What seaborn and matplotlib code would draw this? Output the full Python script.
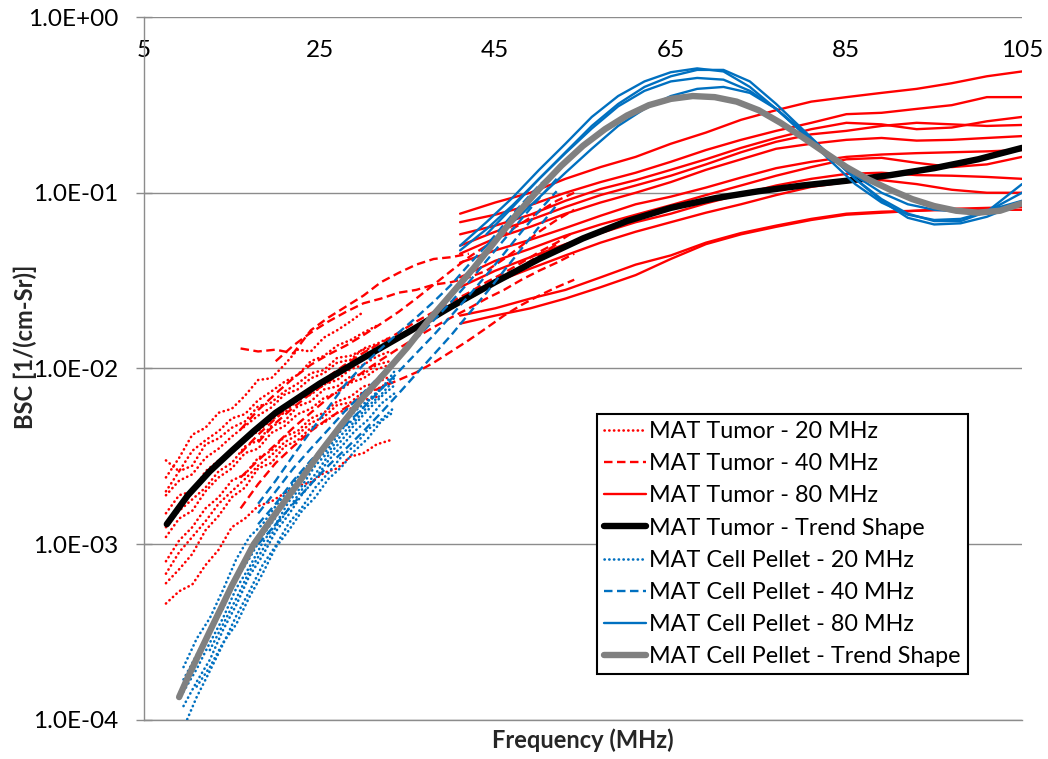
import numpy as np
import pandas as pd
import matplotlib
matplotlib.use("Agg")
import matplotlib.pyplot as plt
from matplotlib.lines import Line2D
from matplotlib.ticker import FixedLocator, FuncFormatter, NullLocator
import seaborn as sns

nan = np.nan

# ---------------------------------------------------------------------------
# Backscatter coefficient (BSC, 1/(cm-Sr)) versus frequency (MHz)
# ---------------------------------------------------------------------------

# MAT tumor, 20 MHz transducer (dotted red)
tumor20_freq = [7.5, 9, 10.5, 12, 13.5, 15, 16.5, 18, 19.5, 21, 22.5, 24, 25.5, 27, 28.5, 30, 31.5, 33]
tumor20_bsc = [
    [2.4e-3, 3.1e-3, 4.2e-3, 4.6e-3, 5.6e-3, 5.9e-3, 7.0e-3, 8.6e-3, 8.8e-3, 1.05e-2, 1.28e-2, 1.25e-2, 1.5e-2, 1.65e-2, 1.85e-2, 2.1e-2, nan, nan],
    [3.0e-3, 2.6e-3, 3.4e-3, 3.9e-3, 4.4e-3, 5.2e-3, 5.5e-3, 6.6e-3, 7.4e-3, 8.4e-3, 9.2e-3, 1.1e-2, 1.18e-2, 1.35e-2, 1.45e-2, 1.6e-2, 1.75e-2, nan],
    [1.9e-3, 2.3e-3, 2.5e-3, 3.1e-3, 3.5e-3, 4.1e-3, 4.7e-3, 5.4e-3, 6.0e-3, 7.1e-3, 7.6e-3, 8.8e-3, 9.4e-3, 1.08e-2, 1.12e-2, 1.3e-2, 1.38e-2, 1.5e-2],
    [1.5e-3, 1.9e-3, 2.0e-3, 2.6e-3, 3.0e-3, 3.3e-3, 3.9e-3, 4.4e-3, 5.1e-3, 5.6e-3, 6.6e-3, 7.1e-3, 8.1e-3, 8.6e-3, 9.9e-3, 1.05e-2, 1.17e-2, 1.25e-2],
    [1.1e-3, 1.4e-3, 1.55e-3, 2.0e-3, 2.4e-3, 2.7e-3, 3.3e-3, 3.5e-3, 4.3e-3, 4.7e-3, 5.5e-3, 5.9e-3, 6.8e-3, 7.3e-3, 8.3e-3, 8.8e-3, 9.9e-3, 1.05e-2],
    [8.0e-4, 1.05e-3, 1.25e-3, 1.6e-3, 1.85e-3, 2.3e-3, 2.5e-3, 3.1e-3, 3.4e-3, 4.1e-3, 4.4e-3, 5.2e-3, 5.6e-3, 6.5e-3, 6.9e-3, 7.9e-3, 8.3e-3, 9.0e-3],
    [6.0e-4, 7.2e-4, 8.8e-4, 1.2e-3, 1.45e-3, 1.85e-3, 2.1e-3, 2.7e-3, 2.9e-3, 3.6e-3, 3.9e-3, 4.6e-3, 4.9e-3, 5.6e-3, 5.9e-3, 6.6e-3, 6.9e-3, nan],
    [4.6e-4, 5.4e-4, 5.9e-4, 7.6e-4, 9.3e-4, 1.25e-3, 1.4e-3, 1.65e-3, 1.75e-3, 1.95e-3, 2.15e-3, 2.25e-3, 2.55e-3, 2.7e-3, 3.15e-3, 3.3e-3, 3.7e-3, 3.9e-3],
    [2.0e-3, 2.6e-3, 2.8e-3, 3.7e-3, 4.0e-3, 4.6e-3, 5.0e-3, 6.1e-3, 6.4e-3, 7.4e-3, 8.2e-3, 9.4e-3, 9.8e-3, 1.15e-2, 1.18e-2, 1.28e-2, 1.32e-2, nan],
    [1.25e-3, 1.55e-3, 1.8e-3, 2.1e-3, 2.6e-3, 2.9e-3, 3.6e-3, 3.9e-3, 4.7e-3, 5.0e-3, 6.1e-3, 6.5e-3, 7.6e-3, 7.9e-3, 9.0e-3, 9.3e-3, 1.05e-2, 1.1e-2],
    [6.8e-4, 9.0e-4, 1.1e-3, 1.35e-3, 1.7e-3, 2.0e-3, 2.35e-3, 2.8e-3, 3.2e-3, 3.8e-3, 4.2e-3, 4.9e-3, 5.3e-3, 6.2e-3, 6.4e-3, 7.4e-3, 7.6e-3, 8.4e-3],
]

# MAT tumor, 40 MHz transducer (dashed red)
tumor40_freq = [16, 18, 20, 22, 24, 26, 28, 30, 32, 34, 36, 38, 40, 42, 44, 46, 48, 50, 52, 54]
tumor40_bsc = [
    [1.3e-2, 1.25e-2, 1.28e-2, 1.22e-2, 1.65e-2, 1.95e-2, 2.25e-2, 2.6e-2, 3.1e-2, 3.5e-2, 3.9e-2, 4.2e-2, 4.3e-2, 4.5e-2, nan, nan, nan, nan, nan, nan],
    [nan, nan, 1.1e-2, 1.35e-2, 1.6e-2, 1.85e-2, 2.1e-2, 2.35e-2, 2.5e-2, 2.7e-2, 2.8e-2, 3.0e-2, 3.1e-2, 3.3e-2, 3.6e-2, 4.2e-2, 5.0e-2, 6.0e-2, 7.0e-2, 8.0e-2],
    [4.5e-3, 5.8e-3, 7.2e-3, 8.8e-3, 1.05e-2, 1.2e-2, 1.35e-2, 1.55e-2, 1.8e-2, 2.1e-2, 2.5e-2, 3.0e-2, 3.6e-2, 4.3e-2, 5.0e-2, 5.8e-2, 6.7e-2, 7.8e-2, 9.0e-2, 1.0e-1],
    [3.3e-3, 4.2e-3, 5.2e-3, 6.4e-3, 7.7e-3, 9.0e-3, 1.06e-2, 1.23e-2, 1.4e-2, 1.6e-2, 1.85e-2, 2.1e-2, 2.4e-2, 2.7e-2, 3.1e-2, 3.5e-2, 4.0e-2, 4.6e-2, 5.2e-2, 6.0e-2],
    [2.4e-3, 3.0e-3, 3.7e-3, 4.6e-3, 5.6e-3, 6.8e-3, 8.1e-3, 9.6e-3, 1.12e-2, 1.3e-2, 1.5e-2, 1.72e-2, 1.95e-2, 2.2e-2, 2.5e-2, 2.8e-2, 3.2e-2, 3.6e-2, 4.0e-2, 4.5e-2],
    [1.6e-3, 2.2e-3, 2.9e-3, 3.6e-3, 4.4e-3, 5.2e-3, 6.0e-3, 7.0e-3, 7.8e-3, 8.6e-3, 9.5e-3, 1.08e-2, 1.25e-2, 1.45e-2, 1.7e-2, 2.0e-2, 2.3e-2, 2.6e-2, 2.9e-2, 3.2e-2],
    [nan, 3.8e-3, 4.9e-3, 6.0e-3, 7.2e-3, 8.4e-3, 9.8e-3, 1.15e-2, 1.3e-2, 1.5e-2, 1.7e-2, 1.95e-2, 2.2e-2, 2.5e-2, 2.85e-2, 3.3e-2, 3.8e-2, 4.4e-2, 5.1e-2, nan],
]

# MAT tumor, 80 MHz transducer (solid red)
tumor80_freq = [41, 45, 49, 53, 57, 61, 65, 69, 73, 77, 81, 85, 89, 93, 97, 101, 105]
tumor80_bsc = [
    [0.076, 0.088, 0.10, 0.12, 0.14, 0.16, 0.19, 0.22, 0.26, 0.295, 0.33, 0.35, 0.37, 0.39, 0.42, 0.46, 0.49],
    [0.068, 0.075, 0.085, 0.10, 0.115, 0.13, 0.15, 0.175, 0.20, 0.225, 0.25, 0.28, 0.285, 0.30, 0.315, 0.35, 0.35],
    [0.058, 0.065, 0.075, 0.09, 0.105, 0.118, 0.135, 0.155, 0.18, 0.205, 0.23, 0.25, 0.245, 0.23, 0.235, 0.255, 0.27],
    [0.050, 0.060, 0.070, 0.083, 0.097, 0.11, 0.125, 0.145, 0.17, 0.195, 0.215, 0.225, 0.24, 0.25, 0.245, 0.24, 0.243],
    [0.045, 0.055, 0.064, 0.076, 0.088, 0.10, 0.115, 0.135, 0.155, 0.178, 0.19, 0.20, 0.205, 0.198, 0.20, 0.205, 0.21],
    [0.040, 0.047, 0.054, 0.063, 0.074, 0.086, 0.095, 0.107, 0.122, 0.138, 0.15, 0.16, 0.165, 0.168, 0.17, 0.172, 0.175],
    [0.033, 0.041, 0.048, 0.057, 0.066, 0.075, 0.085, 0.097, 0.11, 0.125, 0.14, 0.155, 0.158, 0.148, 0.14, 0.145, 0.16],
    [0.029, 0.036, 0.043, 0.051, 0.059, 0.068, 0.076, 0.087, 0.098, 0.11, 0.12, 0.128, 0.13, 0.126, 0.125, 0.123, 0.12],
    [0.025, 0.031, 0.037, 0.044, 0.052, 0.060, 0.068, 0.077, 0.086, 0.097, 0.108, 0.115, 0.118, 0.112, 0.104, 0.10, 0.10],
    [0.020, 0.022, 0.025, 0.028, 0.033, 0.039, 0.044, 0.052, 0.059, 0.065, 0.071, 0.076, 0.078, 0.079, 0.08, 0.08, 0.08],
    [0.018, 0.020, 0.022, 0.025, 0.029, 0.034, 0.042, 0.051, 0.058, 0.064, 0.07, 0.075, 0.077, 0.079, 0.081, 0.082, 0.083],
]

# MAT tumor trend shape (thick black)
tumor_trend_freq = [7.6, 10, 12.5, 15, 17.5, 20, 25, 30, 35, 40, 45, 50, 55, 60, 65, 70, 75, 80, 85, 90, 95, 100, 105]
tumor_trend_bsc = [1.3e-3, 1.9e-3, 2.6e-3, 3.4e-3, 4.4e-3, 5.6e-3, 8.2e-3, 1.15e-2, 1.6e-2, 2.25e-2, 3.1e-2, 4.2e-2,
                   5.5e-2, 6.9e-2, 8.2e-2, 9.3e-2, 1.02e-1, 1.1e-1, 1.17e-1, 1.26e-1, 1.38e-1, 1.55e-1, 1.8e-1]

# MAT cell pellet, 20 MHz transducer (dotted blue)
pellet20_freq = [9.5, 11, 12.5, 14, 15.5, 17, 18.5, 20, 21.5, 23, 24.5, 26, 27.5, 29, 30.5, 32, 33.5]
pellet20_bsc = [
    [2.0e-4, 2.9e-4, 3.8e-4, 5.5e-4, 8.2e-4, 1.1e-3, 1.3e-3, 1.65e-3, 2.05e-3, 2.6e-3, 3.1e-3, 3.8e-3, 4.7e-3, 5.7e-3, 6.6e-3, 7.7e-3, 8.8e-3],
    [1.45e-4, 1.95e-4, 2.75e-4, 3.8e-4, 5.6e-4, 7.4e-4, 1.02e-3, 1.3e-3, 1.75e-3, 2.15e-3, 2.8e-3, 3.35e-3, 4.2e-3, 5.0e-3, 6.1e-3, 7.1e-3, 8.6e-3],
    [1.2e-4, 1.65e-4, 2.2e-4, 3.25e-4, 4.5e-4, 6.6e-4, 8.6e-4, 1.18e-3, 1.48e-3, 1.92e-3, 2.35e-3, 3.0e-3, 3.6e-3, 4.4e-3, 5.1e-3, 6.3e-3, 7.2e-3],
    [9.0e-5, 1.35e-4, 1.9e-4, 2.7e-4, 3.9e-4, 5.4e-4, 7.6e-4, 9.8e-4, 1.32e-3, 1.62e-3, 2.1e-3, 2.55e-3, 3.15e-3, 3.65e-3, 4.5e-3, 5.1e-3, 6.0e-3],
    [nan, 1.55e-4, 2.0e-4, 2.75e-4, 3.5e-4, 5.0e-4, 6.8e-4, 9.6e-4, 1.2e-3, 1.55e-3, 1.85e-3, 2.35e-3, 2.75e-3, 3.4e-3, 4.0e-3, 5.0e-3, 5.7e-3],
    [1.7e-4, 2.35e-4, 3.3e-4, 4.3e-4, 6.3e-4, 8.3e-4, 1.12e-3, 1.42e-3, 1.9e-3, 2.3e-3, 2.95e-3, 3.5e-3, 4.5e-3, 5.2e-3, 6.5e-3, 7.6e-3, 9.6e-3],
    [nan, nan, 2.5e-4, 3.5e-4, 4.9e-4, 7.0e-4, 9.3e-4, 1.25e-3, 1.6e-3, 2.05e-3, 2.5e-3, 3.2e-3, 3.9e-3, 4.8e-3, 5.8e-3, 6.9e-3, 8.0e-3],
]

# MAT cell pellet, 40 MHz transducer (dashed blue)
pellet40_freq = [18, 20, 22, 24, 26, 28, 30, 32, 34, 36, 38, 40, 42, 44, 46, 48, 50, 52]
pellet40_bsc = [
    [1.7e-3, 2.3e-3, 3.2e-3, 4.4e-3, 6.0e-3, 8.2e-3, 1.05e-2, 1.3e-2, 1.6e-2, 1.95e-2, 2.4e-2, 3.0e-2, 3.9e-2, 5.0e-2, 6.6e-2, 8.6e-2, 1.1e-1, 1.35e-1],
    [1.5e-3, 2.0e-3, 2.7e-3, 3.5e-3, 4.5e-3, 5.8e-3, 7.3e-3, 9.2e-3, 1.17e-2, 1.48e-2, 1.88e-2, 2.4e-2, 3.1e-2, 4.1e-2, 5.4e-2, 7.1e-2, 9.3e-2, 1.2e-1],
    [1.3e-3, 1.7e-3, 2.3e-3, 3.0e-3, 3.8e-3, 4.8e-3, 6.0e-3, 7.6e-3, 9.6e-3, 1.22e-2, 1.55e-2, 2.0e-2, 2.6e-2, 3.4e-2, 4.5e-2, 6.0e-2, 7.9e-2, 1.02e-1],
    [1.0e-3, 1.3e-3, 1.7e-3, 2.2e-3, 2.8e-3, 3.5e-3, 4.4e-3, 5.6e-3, 7.2e-3, 9.3e-3, 1.2e-2, 1.55e-2, 2.05e-2, 2.7e-2, 3.6e-2, 4.8e-2, 6.4e-2, 8.5e-2],
]

# MAT cell pellet, 80 MHz transducer (solid blue)
pellet80_freq = [41, 44, 47, 50, 53, 56, 59, 62, 65, 68, 71, 74, 77, 80, 83, 86, 89, 92, 95, 98, 101, 105]
pellet80_bsc = [
    [0.050, 0.068, 0.094, 0.135, 0.19, 0.27, 0.355, 0.43, 0.485, 0.51, 0.49, 0.40, 0.30, 0.22, 0.165, 0.12, 0.092, 0.076, 0.069, 0.069, 0.078, 0.112],
    [0.047, 0.062, 0.085, 0.12, 0.17, 0.24, 0.32, 0.40, 0.46, 0.50, 0.50, 0.43, 0.32, 0.23, 0.165, 0.12, 0.09, 0.072, 0.066, 0.067, 0.073, 0.088],
    [nan, 0.058, 0.083, 0.12, 0.168, 0.232, 0.31, 0.38, 0.43, 0.45, 0.44, 0.38, 0.30, 0.225, 0.165, 0.125, 0.10, 0.086, 0.08, 0.078, 0.079, 0.09],
    [nan, 0.050, 0.068, 0.094, 0.13, 0.178, 0.24, 0.30, 0.355, 0.39, 0.40, 0.37, 0.30, 0.22, 0.155, 0.112, 0.088, 0.075, 0.07, 0.071, 0.078, 0.10],
]

# MAT cell pellet trend shape (thick gray)
pellet_trend_freq = [9, 10, 12.5, 15, 17.5, 20, 22.5, 25, 27.5, 30, 32.5, 35, 37.5, 40, 42.5, 45, 47.5, 50, 52.5, 55,
                     57.5, 60, 62.5, 65, 67.5, 70, 72.5, 75, 77.5, 80, 82.5, 85, 87.5, 90, 92.5, 95, 97.5, 100, 102.5, 105]
pellet_trend_bsc = [1.35e-4, 1.75e-4, 3.2e-4, 5.8e-4, 1.0e-3, 1.5e-3, 2.2e-3, 3.3e-3, 4.8e-3, 6.9e-3, 9.5e-3, 1.32e-2,
                    1.9e-2, 2.65e-2, 3.7e-2, 5.3e-2, 7.6e-2, 1.05e-1, 1.42e-1, 1.85e-1, 2.3e-1, 2.75e-1, 3.15e-1, 3.42e-1,
                    3.55e-1, 3.5e-1, 3.3e-1, 2.95e-1, 2.5e-1, 2.07e-1, 1.7e-1, 1.4e-1, 1.19e-1, 1.04e-1, 9.2e-2, 8.4e-2,
                    7.9e-2, 7.7e-2, 7.9e-2, 8.7e-2]

series_labels = [
    "MAT Tumor - 20 MHz", "MAT Tumor - 40 MHz", "MAT Tumor - 80 MHz", "MAT Tumor - Trend Shape",
    "MAT Cell Pellet - 20 MHz", "MAT Cell Pellet - 40 MHz", "MAT Cell Pellet - 80 MHz", "MAT Cell Pellet - Trend Shape",
]
x_ticks = [5, 25, 45, 65, 85, 105]
y_ticks = [1e-4, 1e-3, 1e-2, 1e-1, 1e0]

# ---------------------------------------------------------------------------
RED = "#FF0000"
BLUE = "#0070C0"
GRAY = "#808080"
GRID = "#8C8C8C"
DOT = (0, (0.1, 1.7))
DASH = (0, (3.6, 1.9))
THIN = 1.7
DOT_W = 1.9
THICK = 4.6

sns.set_theme(style="white")
plt.rcParams["font.family"] = ["Lato", "DejaVu Sans"]
plt.rcParams["text.color"] = "#000000"

fig = plt.figure(figsize=(10.48, 7.59), dpi=100)
ax = fig.add_axes([0.1374, 0.0514, 0.8378, 0.9262])


def long_frame(freqs, curves):
    rows = []
    for k, vals in enumerate(curves):
        for f, v in zip(freqs, vals):
            rows.append((k, f, v))
    return pd.DataFrame(rows, columns=["curve", "freq", "bsc"]).dropna()


def draw_family(freqs, curves, color, ls, lw, z, cap="butt"):
    df = long_frame(freqs, curves)
    sns.lineplot(data=df, x="freq", y="bsc", units="curve", estimator=None, sort=True,
                 color=color, linestyle=ls, lw=lw, dash_capstyle=cap, solid_capstyle="round",
                 zorder=z, legend=False, ax=ax)


draw_family(tumor20_freq, tumor20_bsc, RED, DOT, DOT_W, 3, cap="round")
draw_family(tumor40_freq, tumor40_bsc, RED, DASH, THIN, 3)
draw_family(tumor80_freq, tumor80_bsc, RED, "-", THIN, 3)
draw_family(tumor_trend_freq, [tumor_trend_bsc], "black", "-", THICK, 4)
draw_family(pellet20_freq, pellet20_bsc, BLUE, DOT, DOT_W, 5, cap="round")
draw_family(pellet40_freq, pellet40_bsc, BLUE, DASH, THIN, 5)
draw_family(pellet80_freq, pellet80_bsc, BLUE, "-", THIN, 5)
draw_family(pellet_trend_freq, [pellet_trend_bsc], GRAY, "-", THICK, 6)

# axes
ax.set_yscale("log")
ax.set_xlim(x_ticks[0], x_ticks[-1])
ax.set_ylim(y_ticks[0], y_ticks[-1])
ax.yaxis.set_major_locator(FixedLocator(y_ticks))
ax.yaxis.set_minor_locator(NullLocator())
ax.yaxis.set_major_formatter(FuncFormatter(lambda v, p: f"{v:.1E}"))
ax.set_xticks(x_ticks)
ax.xaxis.set_minor_locator(NullLocator())

ax.tick_params(axis="x", which="both", top=False, bottom=False, labeltop=True, labelbottom=False,
               length=0, pad=-32, labelsize=17.5, labelcolor="black")
ax.tick_params(axis="y", which="major", left=True, direction="inout", length=11, width=1,
               color=GRID, pad=13, labelsize=17.5, labelcolor="black")

ax.yaxis.grid(True, color=GRID, lw=1)
ax.xaxis.grid(False)
for side in ("top", "right"):
    ax.spines[side].set_visible(False)
for side in ("left", "bottom"):
    ax.spines[side].set_color(GRID)
    ax.spines[side].set_linewidth(1)

ax.set_xlabel("Frequency (MHz)", fontsize=17, fontweight="bold")
ax.set_ylabel("BSC [1/(cm-Sr)]", fontsize=17, fontweight="bold")
ax.xaxis.set_label_coords(0.5, -0.012)
ax.yaxis.set_label_coords(-0.122, 0.5306)

# legend
handles = [
    Line2D([], [], color=RED, lw=DOT_W, linestyle=DOT, dash_capstyle="round"),
    Line2D([], [], color=RED, lw=THIN, linestyle=DASH),
    Line2D([], [], color=RED, lw=THIN),
    Line2D([], [], color="black", lw=THICK, solid_capstyle="round"),
    Line2D([], [], color=BLUE, lw=DOT_W, linestyle=DOT, dash_capstyle="round"),
    Line2D([], [], color=BLUE, lw=THIN, linestyle=DASH),
    Line2D([], [], color=BLUE, lw=THIN),
    Line2D([], [], color=GRAY, lw=THICK, solid_capstyle="round"),
]
leg = ax.legend(handles, series_labels, loc="upper left", bbox_to_anchor=(0.516, 0.4353),
                frameon=True, fancybox=False, edgecolor="black", facecolor="white", framealpha=1,
                fontsize=16.8, borderpad=0.3, labelspacing=0.48, handlelength=1.8,
                handletextpad=0.13, borderaxespad=0)
leg.get_frame().set_linewidth(1.5)
leg.set_zorder(10)

fig.savefig("out.png", dpi=100)
